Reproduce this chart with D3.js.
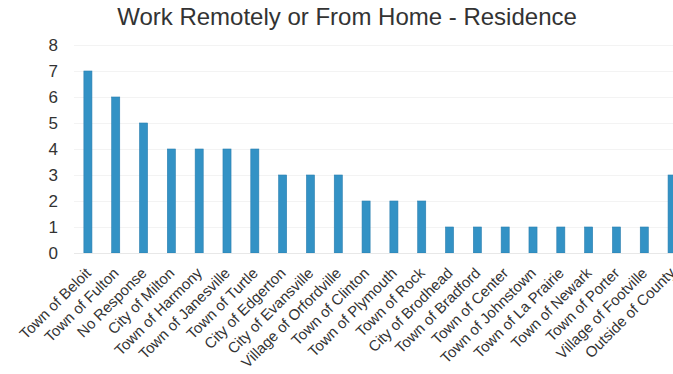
<!DOCTYPE html>
<html>
<head>
<meta charset="utf-8">
<script src="https://cdn.jsdelivr.net/npm/d3@7"></script>
<style>
  body { margin: 0; background: #fff; }
  svg { display: block; }
</style>
</head>
<body>
<div id="chart"></div>
<script>
const title = "Work Remotely or From Home - Residence";

const categories = [
  "Town of Beloit", "Town of Fulton", "No Response", "City of Milton",
  "Town of Harmony", "Town of Janesville", "Town of Turtle", "City of Edgerton",
  "City of Evansville", "Village of Orfordville", "Town of Clinton", "Town of Plymouth",
  "Town of Rock", "City of Brodhead", "Town of Bradford", "Town of Center",
  "Town of Johnstown", "Town of La Prairie", "Town of Newark", "Town of Porter",
  "Village of Footville", "Outside of County"
];
const counts = [7, 6, 5, 4, 4, 4, 4, 3, 3, 3, 2, 2, 2, 1, 1, 1, 1, 1, 1, 1, 1, 3];
const yTicks = [0, 1, 2, 3, 4, 5, 6, 7, 8];

const width = 673, height = 374;
// plot area runs past the right edge, the source picture is cropped there
const plot = {left: 74, right: 686, top: 45, bottom: 253};

const svg = d3.select("#chart").append("svg")
  .attr("width", width)
  .attr("height", height)
  .style("font-family", "'Liberation Sans', Arial, sans-serif");

const x = d3.scaleBand()
  .domain(categories)
  .range([plot.left, plot.right])
  .paddingInner(0.71)
  .paddingOuter(0.355);

const y = d3.scaleLinear()
  .domain([0, 8])
  .range([plot.bottom, plot.top]);

// faint gridlines
svg.append("g")
  .selectAll("line")
  .data(yTicks.slice(1))
  .join("line")
  .attr("x1", plot.left)
  .attr("x2", plot.right)
  .attr("y1", d => y(d) + 0.5)
  .attr("y2", d => y(d) + 0.5)
  .attr("stroke", "#f3f3f3");

// y axis, labels only
const yAxis = svg.append("g")
  .attr("transform", `translate(${plot.left - 16},0)`)
  .call(d3.axisLeft(y).tickValues(yTicks).tickSize(0).tickPadding(0));
yAxis.select(".domain").remove();
yAxis.selectAll("text")
  .attr("font-size", 17)
  .attr("font-family", "'Liberation Sans', Arial, sans-serif")
  .attr("fill", "#333");

// bars
svg.append("g")
  .selectAll("rect")
  .data(categories)
  .join("rect")
  .attr("x", d => x(d))
  .attr("width", x.bandwidth())
  .attr("y", (d, i) => y(counts[i]))
  .attr("height", (d, i) => y(0) - y(counts[i]))
  .attr("fill", "#3392c5")
  .attr("stroke", "#2a7fb0")
  .attr("stroke-width", 0.6);

// baseline
svg.append("line")
  .attr("x1", plot.left)
  .attr("x2", plot.right)
  .attr("y1", plot.bottom + 0.5)
  .attr("y2", plot.bottom + 0.5)
  .attr("stroke", "#e8e8e8");

// x axis labels, rotated
const xAxis = svg.append("g")
  .attr("transform", `translate(0,${plot.bottom})`)
  .call(d3.axisBottom(x).tickSize(0).tickPadding(0));
xAxis.select(".domain").remove();
xAxis.selectAll("text")
  .attr("font-size", 15)
  .attr("font-family", "'Liberation Sans', Arial, sans-serif")
  .attr("fill", "#333")
  .attr("text-anchor", "end")
  .attr("dy", null)
  .attr("y", 0)
  .attr("transform", "translate(4,21) rotate(-45)");

// title
svg.append("text")
  .attr("x", 347)
  .attr("y", 25)
  .attr("text-anchor", "middle")
  .attr("font-size", 24)
  .attr("fill", "#333")
  .text(title);
</script>
</body>
</html>
